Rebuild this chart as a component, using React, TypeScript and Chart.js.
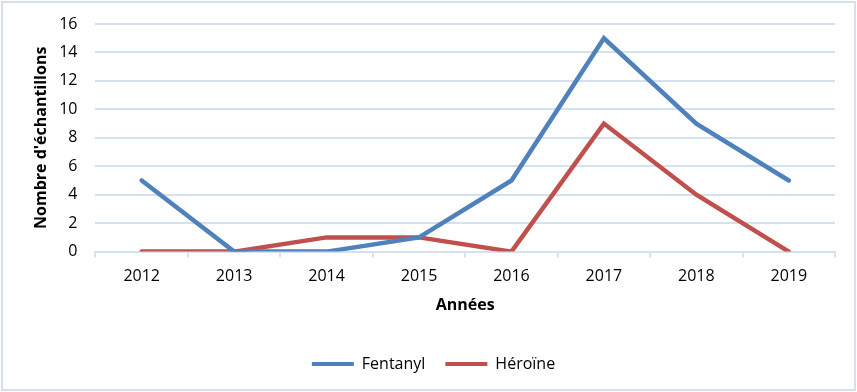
import React, { useEffect, useRef } from "react";
import { Chart, registerables } from "chart.js";

Chart.register(...registerables);

const years = ["2012", "2013", "2014", "2015", "2016", "2017", "2018", "2019"];
const fentanyl = [5, 0, 0, 1, 5, 15, 9, 5];
const heroine = [0, 0, 1, 1, 0, 9, 4, 0];
const yTitle = "Nombre d'échantillons";
const xTitle = "Années";

const FONT = "'Open Sans', 'Noto Sans', sans-serif";
const GRID = "#D6E1EF";

export default function App() {
  const ref = useRef<HTMLCanvasElement>(null);
  useEffect(() => {
    document.body.style.margin = "0";
    const ctx = ref.current!;
    const chart = new Chart(ctx, {
      type: "line",
      data: {
        labels: years,
        datasets: [
          {
            label: "Fentanyl",
            data: fentanyl,
            borderColor: "#4F81BD",
            backgroundColor: "#4F81BD",
            borderWidth: 4.5,
            pointRadius: 0,
            tension: 0,
            borderCapStyle: "round",
          },
          {
            label: "Héroïne",
            data: heroine,
            borderColor: "#C0504D",
            backgroundColor: "#C0504D",
            borderWidth: 4.5,
            pointRadius: 0,
            tension: 0,
            borderCapStyle: "round",
          },
        ],
      },
      options: {
        animation: false,
        responsive: false,
        maintainAspectRatio: false,
        layout: { padding: { left: 32, right: 22, top: 24, bottom: 10 } },
        plugins: {
          tooltip: { enabled: false },
          legend: {
            position: "bottom",
            labels: {
              font: { family: FONT, size: 16 },
              color: "#000",
              boxWidth: 42,
              boxHeight: 4,
              padding: 20,
              generateLabels: (c: any) =>
                c.data.datasets.map((d: any, i: number) => ({
                  text: d.label,
                  fillStyle: d.borderColor,
                  strokeStyle: d.borderColor,
                  lineWidth: 0,
                  datasetIndex: i,
                  fontColor: "#000",
                })),
            },
          },
        },
        scales: {
          x: {
            offset: true,
            grid: {
              offset: true,
              color: GRID,
              drawOnChartArea: false,
              drawTicks: true,
              tickLength: 6,
              lineWidth: 2,
            },
            border: { color: GRID, width: 2 },
            ticks: { font: { family: FONT, size: 16 }, color: "#000", padding: 9 },
            title: {
              display: true,
              text: xTitle,
              font: { family: FONT, size: 16, weight: "bold" },
              color: "#000",
              padding: { top: 1, bottom: 21 },
            },
          },
          y: {
            min: 0,
            max: 16,
            ticks: { stepSize: 2, font: { family: FONT, size: 16, lineHeight: 0.2 }, color: "#000", padding: 18 },
            grid: { color: GRID, lineWidth: 2, drawTicks: false },
            border: { display: false },
            title: {
              display: true,
              text: yTitle,
              font: { family: FONT, size: 16, weight: "bold" },
              color: "#000",
              padding: { top: 0, bottom: -10 },
            },
          },
        },
      },
    });
    return () => chart.destroy();
  }, []);
  return (
    <div style={{ position: "relative", width: 857, height: 392, background: "#fff" }}>
      <canvas ref={ref} width={857} height={392} style={{ display: "block" }} />
      <div
        style={{
          position: "absolute",
          left: 1,
          top: 1,
          width: 851,
          height: 386,
          border: "2px solid #D5DFEE",
          pointerEvents: "none",
        }}
      />
    </div>
  );
}
